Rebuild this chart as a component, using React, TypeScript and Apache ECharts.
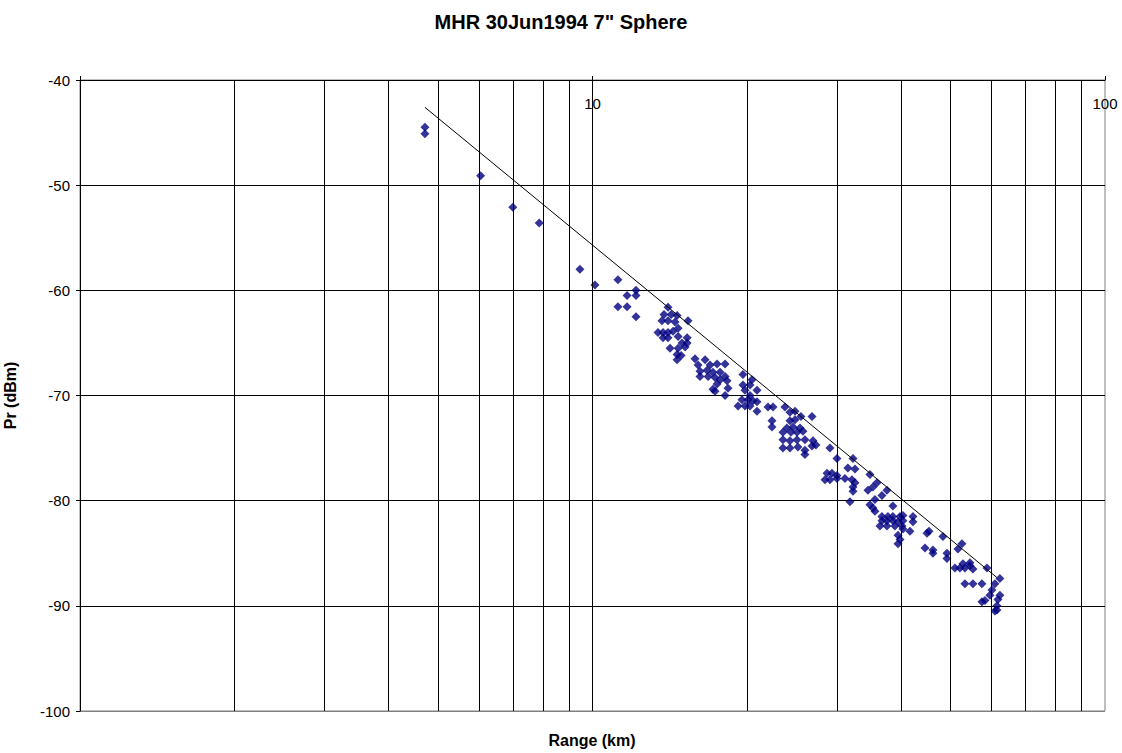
import React, { useEffect, useRef } from "react";
import * as echarts from "echarts";

const FONT = '"Liberation Sans", Arial, Helvetica, sans-serif';

const titleText = 'MHR 30Jun1994 7" Sphere';
const xAxisTitle = "Range (km)";
const yAxisTitle = "Pr (dBm)";

// Range (km) of each measured point
const rangeKm = [
  4.71, 4.71, 6.05, 6.99, 7.87, 9.45, 10.11, 11.21, 11.68, 12.16, 12.16, 11.21, 11.68, 12.16,
  14.04, 13.79, 14.24, 14.62, 15.36, 13.66, 14.04, 14.49, 13.42, 13.73, 14.04, 14.36, 14.69,
  13.73, 14.04, 14.69, 15.3, 14.95, 15.3, 14.17, 14.69, 15.16, 14.62, 14.89, 14.62,
  15.85, 16.58, 16.07, 16.96, 17.5, 18.14, 16.21, 16.73, 17.18, 17.74, 16.21, 16.81, 17.34,
  18.14, 17.74, 18.3, 17.5, 18.38, 17.18, 17.34, 18.14,
  19.66, 20.47, 19.66, 20.29, 19.84, 20.94, 20.29, 19.57, 20.11, 20.56, 20.94, 19.23, 19.84,
  20.29, 20.94,
  22.0, 22.5, 22.4, 22.4, 23.74, 24.28, 24.84, 25.51, 26.81, 24.28, 24.84, 23.95, 24.62, 25.4,
  23.53, 24.39, 25.06, 25.74, 23.53, 24.28, 25.06, 25.97, 26.93, 23.53, 24.28, 25.17, 25.97,
  26.81, 25.97, 27.29,
  29.06, 29.99, 32.23, 31.5, 32.52, 28.68, 29.32, 29.99, 28.42, 29.06, 29.99, 31.09, 32.08,
  32.52, 32.23, 32.23, 34.78, 35.89, 35.25, 34.47, 37.54, 36.71, 31.79, 35.57, 34.78, 35.25,
  35.57, 38.56, 36.71, 37.71, 38.56, 39.81, 40.34, 42.2, 36.71, 37.54, 38.56, 39.45, 40.34,
  42.2, 36.38, 37.54, 38.91, 40.17, 40.34, 41.63, 39.45, 39.81, 39.45,
  44.94, 45.35, 44.54, 46.16, 46.16, 48.28, 49.16, 49.16, 52.59, 51.65, 50.96, 52.12, 53.3,
  54.51, 55.25, 52.82, 54.51, 58.84, 53.3, 55.25, 57.52, 62.36, 60.98, 60.17, 59.63, 58.31,
  57.52, 62.36, 61.81, 61.53, 61.53, 60.98,
];

// Received power (dBm) of each measured point
const prDbm = [
  -44.5, -45.1, -49.1, -52.1, -53.6, -58.0, -59.5, -59.0, -60.5, -60.0, -60.5, -61.55, -61.55, -62.5,
  -61.6, -62.3, -62.3, -62.4, -62.9, -62.9, -62.9, -63.0, -64.0, -64.0, -64.0, -63.9, -63.6,
  -64.5, -64.5, -64.4, -64.5, -65.0, -65.0, -65.5, -65.5, -65.4, -66.1, -66.2, -66.6,
  -66.5, -66.6, -67.1, -67.1, -67.0, -67.0, -67.7, -67.6, -67.8, -67.8, -68.2, -68.2, -68.3,
  -68.2, -68.5, -68.6, -68.9, -69.3, -69.4, -69.6, -70.0,
  -68.0, -68.5, -69.0, -69.0, -69.5, -69.5, -70.0, -70.4, -70.4, -70.5, -70.6, -71.0, -71.0,
  -71.0, -71.5,
  -71.1, -71.1, -72.4, -73.0, -71.1, -71.6, -71.5, -72.0, -72.0, -72.4, -72.3, -73.1, -73.0, -73.1,
  -73.5, -73.5, -73.5, -73.4, -74.2, -74.3, -74.2, -74.2, -74.3, -75.0, -75.0, -74.9, -75.2,
  -74.8, -75.6, -74.7,
  -75.0, -76.0, -76.0, -76.9, -77.0, -77.4, -77.4, -77.6, -78.0, -78.0, -77.9, -77.9, -78.0,
  -78.3, -78.7, -79.1, -77.5, -78.3, -78.7, -79.0, -79.0, -79.5, -80.1, -79.9, -80.4, -80.7,
  -81.0, -80.5, -81.5, -81.5, -81.5, -81.5, -81.4, -81.5, -81.9, -81.9, -81.9, -82.0, -81.9,
  -82.0, -82.4, -82.4, -82.4, -82.4, -82.7, -82.9, -83.3, -83.7, -84.1,
  -83.1, -82.9, -84.5, -84.7, -85.0, -83.4, -85.0, -85.5, -84.1, -84.6, -86.4, -86.4, -86.4,
  -86.2, -86.5, -86.0, -85.9, -86.4, -87.9, -87.9, -87.9, -87.4, -87.9, -88.5, -89.0, -89.5,
  -89.6, -89.0, -89.4, -90.0, -90.4, -90.5,
];

// Fitted trend line (end points)
const fitRange = [4.71, 61.5];
const fitPr = [-42.6, -87.3];

// Axis settings
const xMin = 1;
const xMax = 100;
const yMin = -100;
const yMax = -40;
const yInterval = 10;
const verticalGrid = [2, 3, 4, 5, 6, 7, 8, 9, 10, 20, 30, 40, 50, 60, 70, 80, 90];

export default function App() {
  const ref = useRef<HTMLDivElement>(null);

  useEffect(() => {
    document.body.style.margin = "0";
    if (!ref.current) return;
    const chart = echarts.init(ref.current, null, { renderer: "svg" });

    const splitColors: string[] = [];
    for (let v = yMin; v <= yMax; v += yInterval) splitColors.push(v === yMin ? "#808080" : "#000000");

    chart.setOption({
      animation: false,
      backgroundColor: "#ffffff",
      textStyle: { fontFamily: FONT },
      title: {
        text: titleText,
        left: "center",
        top: 7,
        textStyle: { fontSize: 20, fontWeight: "bold", color: "#000", fontFamily: FONT },
      },
      grid: {
        left: 80,
        top: 80,
        width: 1025,
        height: 631,
        outerBoundsMode: "none",
        containLabel: false,
        show: true,
        borderColor: "#808080",
        borderWidth: 1,
        backgroundColor: "transparent",
      },
      xAxis: {
        type: "log",
        logBase: 10,
        min: xMin,
        max: xMax,
        position: "top",
        axisLine: { show: true, onZero: false, lineStyle: { color: "#000", width: 1 } },
        axisTick: { show: true, inside: false, length: 4, lineStyle: { color: "#000" } },
        axisLabel: {
          inside: true,
          margin: 16,
          fontSize: 15,
          color: "#000",
          fontFamily: FONT,
          formatter: (v: number) => (v === 1 ? "" : String(v)),
        },
        splitLine: { show: false },
      },
      yAxis: {
        type: "value",
        min: yMin,
        max: yMax,
        interval: yInterval,
        name: yAxisTitle,
        nameLocation: "middle",
        nameGap: 62,
        nameRotate: 90,
        nameTextStyle: { fontWeight: "bold", fontSize: 16, color: "#000", fontFamily: FONT },
        axisLine: { show: true, lineStyle: { color: "#000", width: 1 } },
        axisTick: { show: true, length: 4, lineStyle: { color: "#000" } },
        axisLabel: { fontSize: 15, color: "#000", margin: 10, fontFamily: FONT },
        splitLine: { show: true, lineStyle: { color: splitColors, width: 1 } },
      },
      graphic: [
        {
          type: "text",
          x: 592,
          y: 740,
          style: {
            text: xAxisTitle,
            font: `bold 16px ${FONT}`,
            fill: "#000",
            textAlign: "center",
            textVerticalAlign: "middle",
          },
        },
      ],
      series: [
        {
          type: "line",
          name: "grid",
          data: [],
          silent: true,
          z: 1,
          markLine: {
            silent: true,
            symbol: ["none", "none"],
            label: { show: false },
            emphasis: { disabled: true },
            lineStyle: { color: "#000", type: "solid", width: 1 },
            data: verticalGrid.map((v) => ({ xAxis: v })),
          },
        },
        {
          type: "scatter",
          name: "Pr",
          data: rangeKm.map((x, i) => [x, prDbm[i]]),
          symbol: "diamond",
          symbolSize: 9,
          itemStyle: { color: "#000080" },
          z: 3,
        },
        {
          type: "line",
          name: "fit",
          data: fitRange.map((x, i) => [x, fitPr[i]]),
          symbol: "none",
          lineStyle: { color: "#000", width: 1 },
          z: 4,
        },
      ],
    });

    return () => chart.dispose();
  }, []);

  return <div ref={ref} style={{ width: 1122, height: 753 }} />;
}
